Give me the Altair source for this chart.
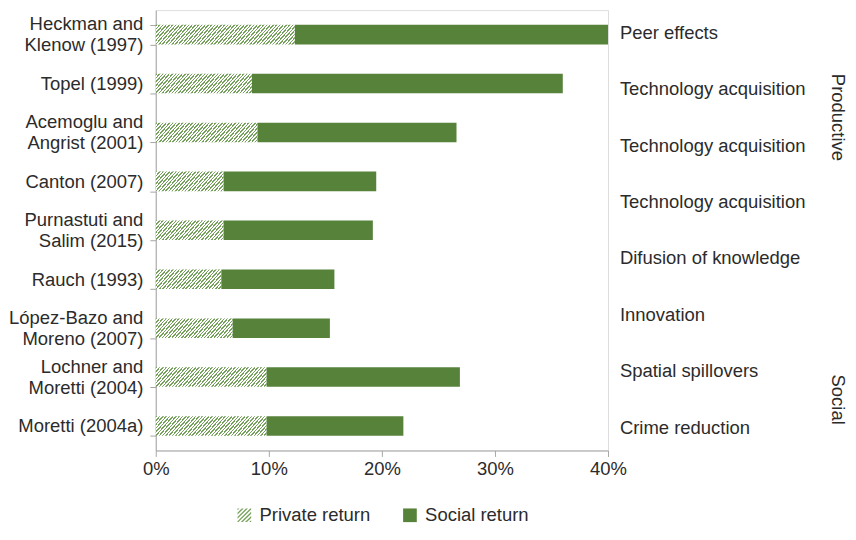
import altair as alt
import pandas as pd

# ---------------- data ----------------
studies = [
    "Heckman and\nKlenow (1997)",
    "Topel (1999)",
    "Acemoglu and\nAngrist (2001)",
    "Canton (2007)",
    "Purnastuti and\nSalim (2015)",
    "Rauch (1993)",
    "López-Bazo and\nMoreno (2007)",
    "Lochner and\nMoretti (2004)",
    "Moretti (2004a)",
]
private_return = [12.3, 8.5, 9.0, 6.0, 6.0, 5.8, 6.8, 9.8, 9.8]
total_return = [40.0, 36.0, 26.6, 19.5, 19.2, 15.8, 15.4, 26.9, 21.9]

mechanisms = [
    "Peer effects",
    "Technology acquisition",
    "Technology acquisition",
    "Technology acquisition",
    "Difusion of knowledge",
    "Innovation",
    "Spatial spillovers",
    "Crime reduction",
]
mechanism_pos = [0, 1, 2, 3, 4, 5, 6, 7]
groups = ["Productive", "Social"]
group_pos = [1.5, 6.5]
series = ["Private return", "Social return"]
x_ticks = [0, 10, 20, 30, 40]

# ---------------- style ----------------
FONT = "Liberation Sans"
FS = 18.6
TXT = "#2b2b2b"
AX = "#a6a6a6"
DARK = "#56823a"
STRIPE = "#76a15c"
W_PLOT = 456
H_PLOT = 444
X_MAX = 40
BAR_H = H_PLOT / len(studies) * 0.4


def hatch(value):
    w = value / X_MAX * W_PLOT
    a = BAR_H / (1.15 * w)
    L = (1 + a) / (1 + a * a)
    n = max(1, round(w * (1 + a) / 3.3))
    f = 0.45
    stops = []
    for k in range(n):
        o0, o1, o2 = k / n, (k + f) / n, (k + 1) / n
        stops += [
            alt.GradientStop(color=STRIPE, offset=o0),
            alt.GradientStop(color=STRIPE, offset=o1),
            alt.GradientStop(color="#ffffff", offset=o1),
            alt.GradientStop(color="#ffffff", offset=o2),
        ]
    return alt.LinearGradient(gradient="linear", stops=stops, x1=0, y1=0, x2=L, y2=L * a)


def clip(poly, fn):
    out = []
    n = len(poly)
    for i in range(n):
        p, q = poly[i], poly[(i + 1) % n]
        fp, fq = fn(p), fn(q)
        if fp >= 0:
            out.append(p)
        if (fp >= 0) != (fq >= 0):
            t = fp / (fp - fq)
            out.append((p[0] + t * (q[0] - p[0]), p[1] + t * (q[1] - p[1])))
    return out


def hatch_path():
    parts = []
    c = -2.0
    while c < 2.0:
        sq = [(-1, -1), (1, -1), (1, 1), (-1, 1)]
        c0, c1 = c, c + 0.28
        poly = clip(sq, lambda p, c0=c0: p[0] + p[1] - c0)
        poly = clip(poly, lambda p, c1=c1: c1 - (p[0] + p[1]))
        if len(poly) >= 3:
            parts.append("M" + "L".join(f"{x:.3f},{y:.3f}" for x, y in poly) + "Z")
        c += 0.62
    return "".join(parts)


df = pd.DataFrame({"study": studies, "private": private_return, "total": total_return})
mech_df = pd.DataFrame({"mechanism": mechanisms, "pos": mechanism_pos})
group_df = pd.DataFrame({"group": groups, "pos": group_pos})
leg_df = pd.DataFrame({"series": series})

y_enc = alt.Y(
    "study:N",
    sort=studies,
    title=None,
    scale=alt.Scale(paddingInner=0.6, paddingOuter=0.3),
    axis=alt.Axis(
        labelExpr="isString(datum.value) ? split(datum.value, '\\n') : ''",
        labelOffset={"condition": {"test": "isString(datum.value) && indexof(datum.value, '\\n') >= 0", "value": -11}, "value": 0},
        labelFontSize={"condition": {"test": "!isString(datum.value)", "value": 0}, "value": FS},
        labelFont=FONT, labelColor=TXT, labelLineHeight=21.5,
        labelPadding=7, tickSize=6, tickBand="extent", tickColor=AX,
        domainColor=AX, labelLimit=300, grid=False,
    ),
)
x_scale = alt.Scale(domain=[0, X_MAX], nice=False)
x_axis = alt.Axis(
    values=x_ticks, labelExpr="datum.value + '%'", labelFontSize=FS,
    labelFont=FONT, labelColor=TXT, labelPadding=3, tickSize=6,
    tickColor=AX, domainColor=AX, grid=False, labelFlush=False,
)

private_layers = []
for i, s in enumerate(studies):
    private_layers.append(
        alt.Chart(df)
        .transform_filter(alt.FieldEqualPredicate(field="study", equal=s))
        .mark_bar(fill=hatch(private_return[i]))
        .encode(x=alt.X("private:Q", scale=x_scale, axis=x_axis, title=None), y=y_enc)
    )

social = alt.Chart(df).mark_bar(color=DARK).encode(
    x=alt.X("private:Q", scale=x_scale, axis=x_axis, title=None),
    x2="total:Q",
    y=y_enc,
)

bars = alt.layer(*private_layers, social)

text_y_scale = alt.Scale(domain=[-0.4, 7.4], reverse=True, nice=False, zero=False)

mech_text = alt.Chart(mech_df).mark_text(
    align="left", baseline="middle", fontSize=FS, font=FONT, color=TXT
).encode(
    x=alt.value(468),
    y=alt.Y("pos:Q", scale=text_y_scale, axis=None),
    text="mechanism:N",
)

group_text = alt.Chart(group_df).mark_text(
    align="center", baseline="middle", fontSize=FS, font=FONT, color=TXT, angle=90
).encode(
    x=alt.value(688),
    y=alt.Y("pos:Q", scale=text_y_scale, axis=None),
    text="group:N",
)

legend = alt.Legend(
    orient="none", legendX=80, legendY=500, direction="horizontal", title=None,
    symbolSize=190, symbolOpacity=1, symbolStrokeWidth=0, labelFontSize=FS,
    labelFont=FONT, labelColor=TXT, columnPadding=30, labelOffset=6, padding=0,
)

legend_layer = alt.Chart(leg_df).mark_point(filled=True, opacity=0, size=1).encode(
    x=alt.value(0),
    y=alt.value(100),
    color=alt.Color("series:N", scale=alt.Scale(domain=series, range=[STRIPE, DARK]), legend=legend),
    shape=alt.Shape("series:N", scale=alt.Scale(domain=series, range=[hatch_path(), "square"]), legend=legend),
)

texts = alt.layer(mech_text, group_text, legend_layer)

chart = (
    alt.layer(bars, texts)
    .resolve_scale(y="independent")
    .properties(width=W_PLOT, height=H_PLOT, padding={"left": 0, "top": 0, "right": 0, "bottom": 0})
    .configure_view(stroke=None)
    .configure(background="white")
)

chart.save("out.html", embed_options={"renderer": "svg", "actions": False})
